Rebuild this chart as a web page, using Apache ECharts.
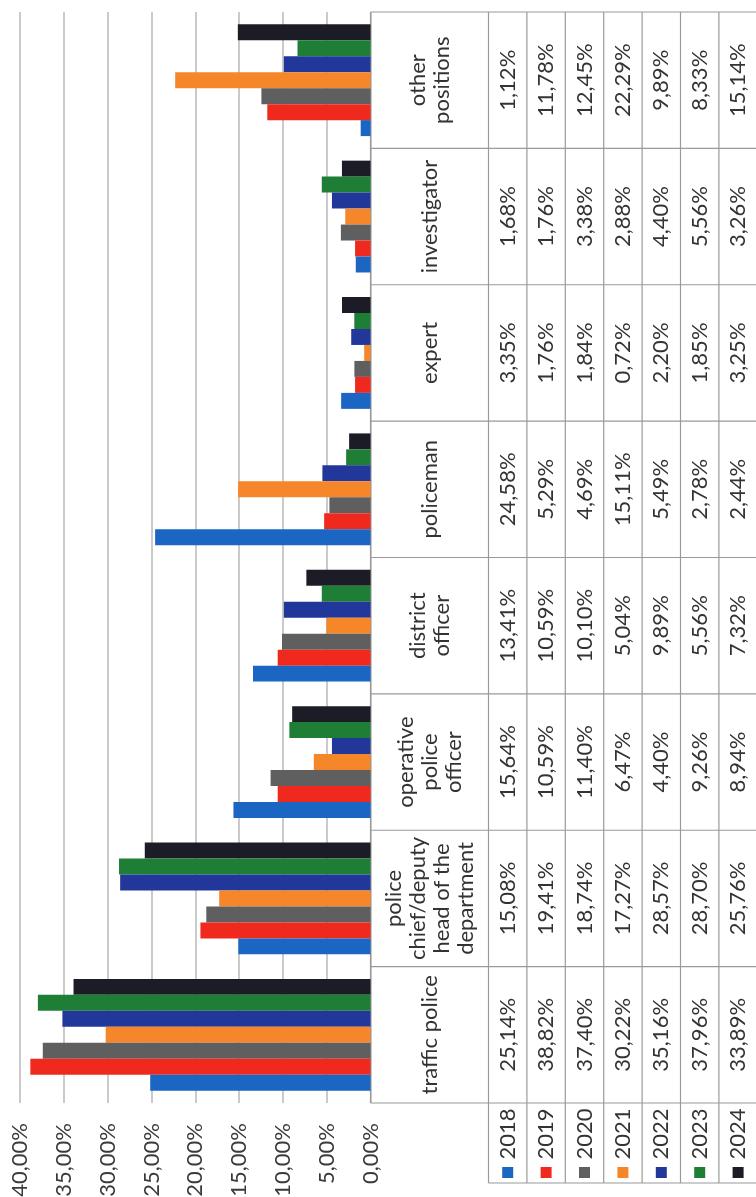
<!DOCTYPE html>
<html>
<head>
<meta charset="utf-8">
<script src="https://cdn.jsdelivr.net/npm/echarts@6/dist/echarts.min.js"></script>
<style>
html,body{margin:0;padding:0;background:#ffffff;}
#chart{width:756px;height:1197px;}
</style>
</head>
<body>
<div id="chart"></div>
<script>
// ---- data ----
const categories = ['traffic police', 'police chief/deputy head of the department', 'operative police officer', 'district officer', 'policeman', 'expert', 'investigator', 'other positions'];
const categoryLabels = ['traffic police', 'police\nchief/deputy\nhead of the\ndepartment', 'operative\npolice\nofficer', 'district\nofficer', 'policeman', 'expert', 'investigator', 'other\npositions'];
const years = ['2018', '2019', '2020', '2021', '2022', '2023', '2024'];
const v2018 = [25.14, 15.08, 15.64, 13.41, 24.58, 3.35, 1.68, 1.12];
const v2019 = [38.82, 19.41, 10.59, 10.59, 5.29, 1.76, 1.76, 11.78];
const v2020 = [37.40, 18.74, 11.40, 10.10, 4.69, 1.84, 3.38, 12.45];
const v2021 = [30.22, 17.27, 6.47, 5.04, 15.11, 0.72, 2.88, 22.29];
const v2022 = [35.16, 28.57, 4.40, 9.89, 5.49, 2.20, 4.40, 9.89];
const v2023 = [37.96, 28.70, 9.26, 5.56, 2.78, 1.85, 5.56, 8.33];
const v2024 = [33.89, 25.76, 8.94, 7.32, 2.44, 3.25, 3.26, 15.14];
const valueTicks = [0, 5, 10, 15, 20, 25, 30, 35, 40];

// ---- styles ----
const seriesValues = [v2018, v2019, v2020, v2021, v2022, v2023, v2024];
const colors = ['#1a66c2', '#f0291f', '#5f5f5f', '#f6862a', '#22379a', '#1e7e35', '#1c1c26'];
const FONT = 'Lato';
const TEXT = '#333333';
const LINE = '#9a9a9a';
const fmt = v => v.toFixed(2).replace('.', ',') + '%';

const chart = echarts.init(document.getElementById('chart'), null, {renderer: 'canvas'});

// series added in reverse so that 2018 sits at the bottom of each group
const series = years.map((y, i) => ({
  name: y,
  type: 'bar',
  data: seriesValues[i],
  itemStyle: {color: colors[i]},
  barGap: '0%',
  barCategoryGap: '18%',
  animation: false
})).reverse();

chart.setOption({
  animation: false,
  backgroundColor: '#ffffff',
  grid: {left: 20, right: 385.5, top: 12, bottom: 94, containLabel: false, outerBoundsMode: 'none'},
  xAxis: {
    type: 'value',
    inverse: true,
    min: valueTicks[0],
    max: valueTicks[valueTicks.length - 1],
    interval: valueTicks[1] - valueTicks[0],
    axisLine: {show: false},
    axisTick: {show: false},
    splitLine: {show: true, lineStyle: {color: '#b8b8b8', width: 1.5}},
    axisLabel: {
      rotate: 90, margin: 20, fontSize: 22, fontFamily: FONT, color: '#3a3a3a',
      formatter: v => fmt(v)
    }
  },
  yAxis: {
    type: 'category',
    data: categories,
    axisLine: {show: false},
    axisTick: {show: false},
    axisLabel: {show: false},
    splitLine: {show: false}
  },
  series: series
});

// ---- data table and legend built from the axes ----
function buildTable() {
  const x0 = chart.convertToPixel({xAxisIndex: 0}, 0);
  const yc = categories.map((c, i) => chart.convertToPixel({yAxisIndex: 0}, i));
  const band = Math.abs(yc[0] - yc[1]);
  const headerW = 118;
  const colW = 38.4;
  const tableTop = Math.min(...yc) - band / 2;
  const tableBottom = Math.max(...yc) + band / 2;
  const colStart = x0 + headerW;
  const tableRight = colStart + colW * years.length;
  const legendBottom = tableBottom + 80;
  const els = [];
  const line = (x1, y1, x2, y2) => els.push({
    type: 'line', silent: true,
    shape: {x1, y1, x2, y2},
    style: {stroke: LINE, lineWidth: 1.2}
  });
  const text = (x, y, t, extra) => els.push(Object.assign({
    type: 'text', silent: true, x, y, rotation: Math.PI / 2,
    style: {text: t, x: 0, y: 0, align: 'center', verticalAlign: 'middle',
      fontSize: 22, fontFamily: FONT, fill: TEXT, lineHeight: 24}
  }, extra || {}));

  // horizontal lines (category boundaries)
  for (let i = 0; i <= categories.length; i++) {
    const y = tableTop + i * band;
    line(x0, y, tableRight, y);
  }
  // left border of table
  line(x0, tableTop, x0, tableBottom);
  // column boundaries (through legend area)
  for (let j = 0; j <= years.length; j++) {
    const x = colStart + j * colW;
    line(x, tableTop, x, legendBottom);
  }
  line(colStart, legendBottom, tableRight, legendBottom);

  // category header cells
  categories.forEach((c, i) => {
    text(x0 + headerW / 2, yc[i], categoryLabels[i]);
  });
  // value cells
  years.forEach((yr, j) => {
    const cx = colStart + colW * (j + 0.5);
    seriesValues[j].forEach((v, i) => text(cx, yc[i], fmt(v)));
    // legend key
    text(cx, tableBottom + 31, yr);
    els.push({
      type: 'rect', silent: true,
      shape: {x: cx - 5.5, y: tableBottom + 64, width: 11, height: 11},
      style: {fill: colors[j]}
    });
  });
  chart.setOption({graphic: {elements: els}});
}
buildTable();
</script>
</body>
</html>
